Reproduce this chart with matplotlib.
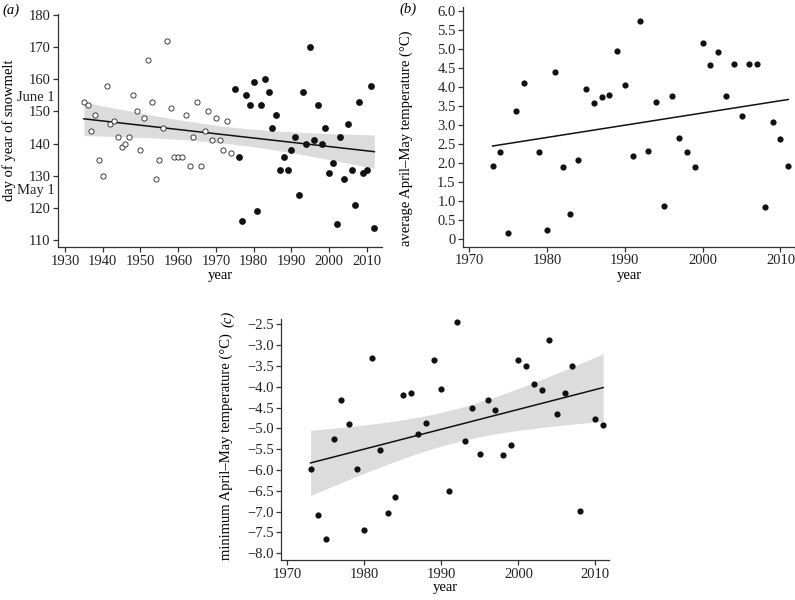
import matplotlib.pyplot as plt
import numpy as np

plt.rcParams['font.family'] = ['Liberation Serif', 'DejaVu Serif']
plt.rcParams['font.size'] = 10

# (a) day of year of snowmelt
years_a_old = list(range(1935, 1975))
melt_old = [153, 152, 144, 149, 135, 130, 158, 146, 147, 142,
            139, 140, 142, 155, 150, 138, 148, 166, 153, 129,
            135, 145, 172, 151, 136, 136, 136, 149, 133, 142,
            153, 133, 144, 150, 141, 148, 141, 138, 147, 137]
years_a_new = list(range(1975, 2013))
melt_new = [157, 136, 116, 155, 152, 159, 119, 152, 160, 156,
            145, 149, 132, 136, 132, 138, 142, 124, 156, 140,
            170, 141, 152, 140, 145, 131, 134, 115, 142, 129,
            146, 132, 121, 153, 131, 132, 158, 114]

# (b) average April-May temperature
years_b = [1973, 1974, 1975, 1976, 1977, 1979, 1980, 1981, 1982, 1983,
           1984, 1985, 1986, 1987, 1988, 1989, 1990, 1991, 1992, 1993,
           1994, 1995, 1996, 1997, 1998, 1999, 2000, 2001, 2002, 2003,
           2004, 2005, 2006, 2007, 2008, 2009, 2010, 2011]
avg_temp = [1.93, 2.30, 0.18, 3.36, 4.11, 2.29, 0.25, 4.40, 1.89, 0.67,
            2.08, 3.94, 3.58, 3.73, 3.78, 4.95, 4.06, 2.19, 5.73, 2.32,
            3.61, 0.88, 3.77, 2.67, 2.30, 1.89, 5.17, 4.59, 4.92, 3.76,
            4.61, 3.25, 4.61, 4.61, 0.86, 3.08, 2.64, 1.94]

# (c) minimum April-May temperature
years_c = [1973, 1974, 1975, 1976, 1977, 1978, 1979, 1980, 1981, 1982,
           1983, 1984, 1985, 1986, 1987, 1988, 1989, 1990, 1991, 1992,
           1993, 1994, 1995, 1996, 1997, 1998, 1999, 2000, 2001, 2002,
           2003, 2004, 2005, 2006, 2007, 2008, 2010, 2011]
min_temp = [-5.98, -7.09, -7.66, -5.25, -4.31, -4.89, -5.98, -7.44, -3.32, -5.53,
            -7.03, -6.66, -4.20, -4.14, -5.14, -4.86, -3.37, -4.06, -6.50, -2.45,
            -5.30, -4.50, -5.61, -4.33, -4.56, -5.64, -5.41, -3.37, -3.51, -3.93,
            -4.09, -2.89, -4.65, -4.14, -3.51, -6.98, -4.78, -4.93]


def fit_line(x, y):
    """OLS fit with 95% confidence band for the mean."""
    x = np.asarray(x, float)
    y = np.asarray(y, float)
    n = len(x)
    b, a = np.polyfit(x, y, 1)
    xs = np.linspace(x.min(), x.max(), 100)
    ys = a + b * xs
    resid = y - (a + b * x)
    s = np.sqrt(np.sum(resid ** 2) / (n - 2))
    sxx = np.sum((x - x.mean()) ** 2)
    se = s * np.sqrt(1 / n + (xs - x.mean()) ** 2 / sxx)
    t = 2.03 if n < 50 else 1.99
    return xs, ys, t * se


def style(ax):
    for side in ['top', 'right']:
        ax.spines[side].set_visible(False)
    for side in ['left', 'bottom']:
        ax.spines[side].set_color('#333333')
        ax.spines[side].set_linewidth(0.9)
    ax.tick_params(direction='out', length=3.5, width=0.9, color='#333333',
                   labelcolor='#222222', labelsize=10.5, pad=2)


LABEL_SIZE = 10.5

fig = plt.figure(figsize=(7.95, 6.0), dpi=100)

# panel a
ax = fig.add_axes([0.0733, 0.588, 0.407, 0.389])
style(ax)
xa = years_a_old + years_a_new
ya = melt_old + melt_new
xs, ys, ci = fit_line(xa, ya)
ax.fill_between(xs, ys - ci, ys + ci, color='#dcdcdc', lw=0, zorder=1)
ax.plot(xs, ys, color='#111111', lw=1.1, zorder=2)
ax.scatter(years_a_old, melt_old, s=14, facecolors='white', edgecolors='#222222',
           linewidths=0.6, zorder=3)
ax.scatter(years_a_new, melt_new, s=24, color='#111111', lw=0, zorder=3)
ax.set_xlim(1928.2, 2014)
ax.set_ylim(107.9, 180.3)
ax.set_xticks(range(1930, 2011, 10))
ax.set_yticks(range(110, 181, 10))
ax.set_xlabel('year', fontsize=LABEL_SIZE, labelpad=1)
ax.set_ylabel('day of year of snowmelt', fontsize=LABEL_SIZE)
ax.yaxis.set_label_coords(-0.131, 0.5)
ax.text(-0.01, 154.4, 'June 1', transform=ax.get_yaxis_transform(),
        ha='right', va='center', fontsize=10.5, color='#222222')
ax.text(-0.01, 125.4, 'May 1', transform=ax.get_yaxis_transform(),
        ha='right', va='center', fontsize=10.5, color='#222222')
fig.text(0.003, 0.983, '(a)', style='italic', fontsize=10.5, va='center')

# panel b
ax = fig.add_axes([0.5828, 0.5888, 0.4165, 0.400])
style(ax)
xs, ys, ci = fit_line(years_b, avg_temp)
ax.plot(xs, ys, color='#111111', lw=1.1, zorder=2)
ax.scatter(years_b, avg_temp, s=20, color='#111111', lw=0, zorder=3)
ax.set_xlim(1969.23, 2011.8)
ax.set_ylim(-0.19, 6.11)
ax.set_xticks(range(1970, 2011, 10))
yt = np.arange(0, 6.01, 0.5)
ax.set_yticks(yt)
ax.set_yticklabels(['0'] + ['%.1f' % v for v in yt[1:]])
ax.set_xlabel('year', fontsize=LABEL_SIZE, labelpad=1)
ax.set_ylabel('average April\u2013May temperature (\u00b0C)', fontsize=LABEL_SIZE)
ax.yaxis.set_label_coords(-0.152, 0.45)
fig.text(0.503, 0.985, '(b)', style='italic', fontsize=10.5, va='center')

# panel c
ax = fig.add_axes([0.3538, 0.0667, 0.4126, 0.4013])
style(ax)
xs, ys, ci = fit_line(years_c, min_temp)
ax.fill_between(xs, ys - ci, ys + ci, color='#dcdcdc', lw=0, zorder=1)
ax.plot(xs, ys, color='#111111', lw=1.1, zorder=2)
ax.scatter(years_c, min_temp, s=20, color='#111111', lw=0, zorder=3)
ax.set_xlim(1969.2, 2011.8)
ax.set_ylim(-8.16, -2.38)
ax.set_xticks(range(1970, 2011, 10))
ax.set_yticks(np.arange(-8.0, -2.49, 0.5))
ax.yaxis.set_major_formatter(plt.FuncFormatter(lambda v, p: '\u2212%.1f' % abs(v)))
ax.set_xlabel('year', fontsize=LABEL_SIZE, labelpad=0)
ax.set_ylabel('minimum April\u2013May temperature (\u00b0C)', fontsize=LABEL_SIZE)
ax.yaxis.set_label_coords(-0.147, 0.47)
fig.text(0.287, 0.468, '(c)', style='italic', fontsize=10.5, rotation=90,
         ha='center', va='center')

fig.savefig('out.png', dpi=100)
